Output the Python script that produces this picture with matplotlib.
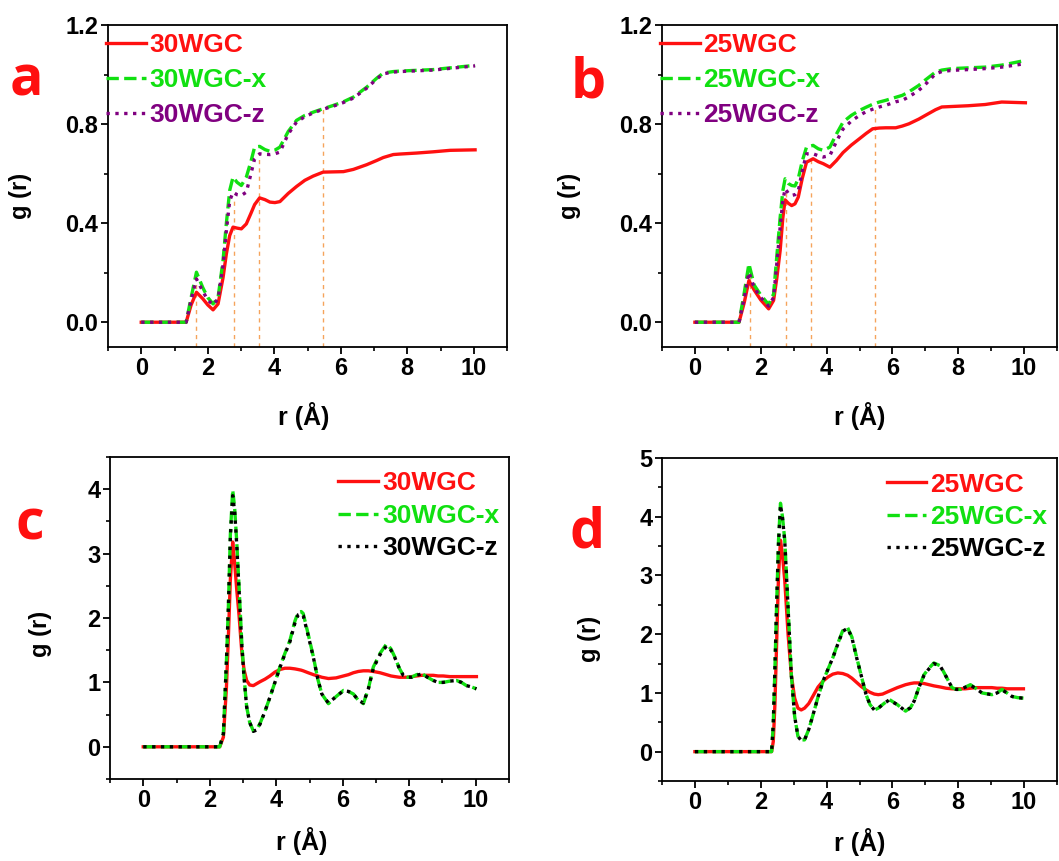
import matplotlib
matplotlib.use("Agg")
import matplotlib.pyplot as plt
from matplotlib.ticker import MultipleLocator

plt.rcParams['font.family'] = ['Liberation Sans', 'DejaVu Sans']
plt.rcParams['font.weight'] = 'bold'

# ---------------- data ----------------
# panel a (30WGC, cumulative)
r_a = [0.0, 0.5, 1.0, 1.35, 1.5, 1.66, 1.85, 2.0, 2.16, 2.31, 2.46, 2.56, 2.66, 2.76, 2.88,
       3.01, 3.16, 3.3, 3.41, 3.56, 3.72, 3.87, 4.02, 4.17, 4.42, 4.67, 4.92, 5.17, 5.47,
       5.77, 6.08, 6.38, 6.78, 7.08, 7.28, 7.58, 7.78, 8.28, 8.78, 9.29, 10.04]
a_wgc = [0, 0, 0, 0, 0.07, 0.121, 0.095, 0.07, 0.05, 0.074, 0.18, 0.276, 0.35, 0.384, 0.38,
         0.377, 0.397, 0.44, 0.475, 0.502, 0.495, 0.485, 0.483, 0.487, 0.52, 0.548, 0.573, 0.59, 0.606,
         0.607, 0.608, 0.617, 0.636, 0.653, 0.665, 0.677, 0.679, 0.683, 0.688, 0.694, 0.696]
a_x = [0, 0, 0, 0, 0.1, 0.202, 0.14, 0.1, 0.074, 0.1, 0.25, 0.4, 0.532, 0.586, 0.565,
       0.552, 0.586, 0.65, 0.707, 0.71, 0.697, 0.69, 0.695, 0.707, 0.77, 0.815, 0.835, 0.848, 0.862,
       0.875, 0.89, 0.909, 0.949, 0.985, 1.006, 1.012, 1.014, 1.017, 1.02, 1.027, 1.037]
a_z = [0, 0, 0, 0, 0.09, 0.175, 0.125, 0.09, 0.07, 0.095, 0.23, 0.37, 0.49, 0.525, 0.515,
       0.512, 0.525, 0.6, 0.66, 0.68, 0.678, 0.677, 0.68, 0.687, 0.76, 0.808, 0.83, 0.845, 0.86,
       0.872, 0.887, 0.905, 0.945, 0.982, 1.003, 1.01, 1.012, 1.015, 1.018, 1.025, 1.035]
a_guides_r = [1.66, 2.78, 3.54, 5.47]
a_guides_g = [0.2, 0.5, 0.68, 0.86]

# panel b (25WGC, cumulative)
r_b = [0, 0.5, 1.0, 1.34, 1.5, 1.64, 1.8, 2.0, 2.24, 2.39, 2.49, 2.59, 2.67, 2.74, 2.84, 2.94,
       3.04, 3.14, 3.26, 3.39, 3.59, 3.75, 3.9, 4.1, 4.3, 4.5, 4.75, 5.0, 5.2, 5.4, 5.6, 5.8,
       6.1, 6.3, 6.5, 6.8, 7.0, 7.31, 7.5, 7.81, 8.3, 8.82, 9.32, 10.04]
b_wgc = [0, 0, 0, 0, 0.08, 0.168, 0.13, 0.09, 0.054, 0.088, 0.18, 0.29, 0.42, 0.494, 0.48, 0.471,
         0.478, 0.505, 0.58, 0.646, 0.66, 0.648, 0.64, 0.626, 0.653, 0.685, 0.715, 0.741, 0.762, 0.781, 0.784, 0.785,
         0.785, 0.792, 0.801, 0.82, 0.835, 0.858, 0.869, 0.871, 0.874, 0.879, 0.889, 0.886]
b_x = [0, 0, 0, 0, 0.12, 0.236, 0.15, 0.11, 0.071, 0.114, 0.27, 0.424, 0.53, 0.579, 0.56, 0.552,
       0.55, 0.58, 0.65, 0.707, 0.714, 0.7, 0.694, 0.707, 0.76, 0.808, 0.835, 0.855, 0.868, 0.88, 0.889, 0.896,
       0.908, 0.916, 0.93, 0.956, 0.978, 1.01, 1.018, 1.024, 1.027, 1.03, 1.038, 1.057]
b_z = [0, 0, 0, 0, 0.1, 0.202, 0.14, 0.1, 0.065, 0.1, 0.24, 0.384, 0.49, 0.539, 0.52, 0.512,
       0.515, 0.53, 0.61, 0.68, 0.68, 0.672, 0.667, 0.673, 0.73, 0.78, 0.812, 0.835, 0.85, 0.86, 0.869, 0.876,
       0.89, 0.896, 0.91, 0.936, 0.96, 1.003, 1.012, 1.017, 1.02, 1.024, 1.03, 1.044]
b_guides_r = [1.67, 2.77, 3.54, 5.48]
b_guides_g = [0.2, 0.52, 0.66, 0.86]

# panel c (30WGC, RDF)
r_c = [0, 0.5, 1, 1.5, 2.0, 2.3, 2.41, 2.5, 2.56, 2.62, 2.69, 2.75, 2.81, 2.88, 2.96, 3.03, 3.11,
       3.2, 3.31, 3.41, 3.51, 3.66, 3.81, 3.96, 4.11, 4.26, 4.41, 4.56, 4.66, 4.75, 4.81, 4.96,
       5.12, 5.25, 5.37, 5.57, 5.8, 6.02, 6.17, 6.32, 6.47, 6.62, 6.77, 6.92, 7.12, 7.32, 7.45,
       7.57, 7.7, 7.82, 7.95, 8.07, 8.22, 8.37, 8.55, 8.72, 8.87, 9.02, 9.22, 9.42, 9.57, 9.72,
       9.87, 10.02]
c_wgc = [0, 0, 0, 0, 0, 0.0, 0.15, 0.9, 1.7, 2.6, 3.18, 2.85, 2.45, 2.05, 1.5, 1.2, 1.03,
         0.96, 0.95, 0.98, 1.01, 1.05, 1.1, 1.16, 1.2, 1.22, 1.22, 1.21, 1.2, 1.19, 1.18, 1.15,
         1.12, 1.1, 1.08, 1.06, 1.07, 1.1, 1.12, 1.15, 1.17, 1.18, 1.18, 1.17, 1.15, 1.12, 1.1,
         1.09, 1.08, 1.08, 1.08, 1.09, 1.1, 1.11, 1.11, 1.11, 1.1, 1.1, 1.09, 1.09, 1.09, 1.09,
         1.09, 1.09]
c_x = [0, 0, 0, 0, 0, 0.0, 0.2, 1.3, 2.17, 3.3, 3.99, 3.7, 3.2, 2.5, 1.65, 1.1, 0.62,
       0.38, 0.25, 0.27, 0.36, 0.55, 0.77, 1.0, 1.24, 1.45, 1.65, 1.95, 2.09, 2.1, 2.07, 1.75,
       1.39, 1.05, 0.82, 0.67, 0.78, 0.875, 0.86, 0.82, 0.72, 0.67, 0.9, 1.24, 1.45, 1.6, 1.52,
       1.39, 1.22, 1.11, 1.08, 1.08, 1.12, 1.14, 1.08, 1.03, 1.0, 1.0, 1.02, 1.03, 1.0, 0.95,
       0.93, 0.9]
c_z = [0, 0, 0, 0, 0, 0.0, 0.2, 1.3, 2.15, 3.25, 3.9, 3.65, 3.15, 2.45, 1.62, 1.08, 0.62,
       0.38, 0.24, 0.26, 0.35, 0.55, 0.77, 1.0, 1.23, 1.44, 1.63, 1.92, 2.05, 2.07, 2.04, 1.73,
       1.38, 1.05, 0.82, 0.68, 0.78, 0.87, 0.86, 0.82, 0.72, 0.68, 0.9, 1.22, 1.43, 1.57, 1.5,
       1.38, 1.22, 1.11, 1.08, 1.08, 1.11, 1.13, 1.08, 1.03, 1.0, 1.0, 1.02, 1.03, 1.0, 0.95,
       0.93, 0.9]

# panel d (25WGC, RDF)
r_d = [0, 0.5, 1.0, 1.5, 2.0, 2.33, 2.38, 2.43, 2.48, 2.54, 2.6, 2.66, 2.73, 2.83, 2.93, 3.03,
       3.13, 3.23, 3.33, 3.46, 3.59, 3.74, 3.89, 4.04, 4.19, 4.34, 4.49, 4.64, 4.77, 4.89, 5.05,
       5.2, 5.32, 5.45, 5.57, 5.7, 5.9, 6.15, 6.4, 6.55, 6.66, 6.81, 6.96, 7.11, 7.26, 7.46,
       7.63, 7.81, 7.94, 8.07, 8.22, 8.37, 8.55, 8.72, 9.02, 9.18, 9.33, 9.48, 9.63, 9.8, 9.98]
d_wgc = [0, 0, 0, 0, 0, 0, 0.17, 0.8, 1.8, 3.0, 3.6, 3.35, 2.91, 2.0, 1.3, 0.91,
         0.74, 0.71, 0.74, 0.82, 0.95, 1.1, 1.2, 1.27, 1.32, 1.34, 1.33, 1.3, 1.25, 1.19, 1.11,
         1.05, 1.01, 0.98, 0.97, 0.98, 1.03, 1.09, 1.14, 1.16, 1.17, 1.17, 1.16, 1.14, 1.12, 1.1,
         1.08, 1.07, 1.07, 1.07, 1.07, 1.08, 1.09, 1.09, 1.09, 1.08, 1.08, 1.07, 1.07, 1.07, 1.07]
d_x = [0, 0, 0, 0, 0, 0, 0.46, 1.4, 2.46, 3.6, 4.23, 4.0, 3.6, 2.46, 1.3, 0.6,
       0.26, 0.2, 0.2, 0.38, 0.63, 0.93, 1.2, 1.4, 1.6, 1.84, 2.06, 2.11, 1.95, 1.66, 1.3,
       0.97, 0.8, 0.71, 0.74, 0.8, 0.89, 0.8, 0.69, 0.75, 0.86, 1.1, 1.31, 1.42, 1.51, 1.46,
       1.28, 1.09, 1.06, 1.06, 1.1, 1.14, 1.07, 1.0, 0.97, 1.0, 1.06, 1.0, 0.94, 0.92, 0.91]
d_z = [0, 0, 0, 0, 0, 0, 0.46, 1.4, 2.45, 3.55, 4.2, 3.98, 3.58, 2.45, 1.3, 0.6,
       0.26, 0.19, 0.2, 0.38, 0.63, 0.93, 1.2, 1.4, 1.6, 1.83, 2.05, 2.1, 1.94, 1.65, 1.3,
       0.97, 0.8, 0.71, 0.74, 0.8, 0.88, 0.8, 0.69, 0.75, 0.86, 1.1, 1.3, 1.41, 1.5, 1.45,
       1.28, 1.09, 1.06, 1.06, 1.1, 1.13, 1.07, 1.0, 0.97, 1.0, 1.05, 1.0, 0.94, 0.92, 0.91]

labels_30 = ['30WGC', '30WGC-x', '30WGC-z']
labels_25 = ['25WGC', '25WGC-x', '25WGC-z']
panel_letters = ['a', 'b', 'c', 'd']

RED = '#ff1010'
GREEN = '#11e011'
PURPLE = '#800080'
BLACK = '#000000'
ORANGE = '#f5a45c'

fig = plt.figure(figsize=(10.59, 8.61), dpi=100)
ax_a = fig.add_axes([108/1059, 1-347/861, 399/1059, 322/861])
ax_b = fig.add_axes([662/1059, 1-347/861, 395/1059, 322/861])
ax_c = fig.add_axes([110/1059, 1-779/861, 399/1059, 322/861])
ax_d = fig.add_axes([662/1059, 1-781/861, 395/1059, 323/861])

LW = 2.4


def style(ax, ylim, ymaj, ymin, fmt):
    ax.set_xlim(-1, 11)
    ax.set_ylim(*ylim)
    ax.xaxis.set_major_locator(MultipleLocator(2))
    ax.xaxis.set_minor_locator(MultipleLocator(1))
    ax.yaxis.set_major_locator(MultipleLocator(ymaj))
    ax.yaxis.set_minor_locator(MultipleLocator(ymin))
    ax.yaxis.set_major_formatter(fmt)
    ax.tick_params(which='major', direction='out', length=5, width=1.3, labelsize=17, pad=2)
    ax.tick_params(which='minor', direction='out', length=3, width=1.2)
    for s in ax.spines.values():
        s.set_linewidth(1.3)
    for t in ax.get_xticklabels() + ax.get_yticklabels():
        t.set_fontweight('bold')
    ax.set_ylabel('g (r)', fontsize=17, fontweight='bold')
    ax.set_xlabel('r (Å)', fontsize=18, fontweight='bold')


def cum_panel(ax, r, s1, s2, s3, gr, gg, labels):
    ax.vlines(gr, -0.1, gg, colors=ORANGE, linestyles=(0, (3, 3)), linewidth=1.0, zorder=1)
    ax.plot(r, s1, color=RED, lw=LW, ls='-', label=labels[0], zorder=3)
    ax.plot(r, s2, color=GREEN, lw=LW, ls='--', label=labels[1], zorder=4)
    ax.plot(r, s3, color=PURPLE, lw=LW, ls=':', label=labels[2], zorder=5)
    style(ax, (-0.1, 1.2), 0.4, 0.2, '{x:.1f}')
    leg = ax.legend(loc='upper left', bbox_to_anchor=(-0.005, 0.975), frameon=False,
                    handlelength=1.5, handletextpad=0.15, labelspacing=0.42, borderpad=0,
                    borderaxespad=0, prop={'weight': 'bold', 'size': 19})
    for t, c in zip(leg.get_texts(), [RED, GREEN, PURPLE]):
        t.set_color(c)


def rdf_panel(ax, r, s1, s2, s3, labels, ylim):
    ax.plot(r, s1, color=RED, lw=LW, ls='-', label=labels[0], zorder=3)
    ax.plot(r, s2, color=GREEN, lw=LW, ls='--', label=labels[1], zorder=4)
    ax.plot(r, s3, color=BLACK, lw=LW, ls=':', label=labels[2], zorder=5)
    style(ax, ylim, 1, 0.5, '{x:.0f}')
    leg = ax.legend(loc='upper right', bbox_to_anchor=(0.975, 0.955), frameon=False,
                    handlelength=1.5, handletextpad=0.15, labelspacing=0.32, borderpad=0,
                    borderaxespad=0, prop={'weight': 'bold', 'size': 19})
    for t, c in zip(leg.get_texts(), [RED, GREEN, BLACK]):
        t.set_color(c)


cum_panel(ax_a, r_a, a_wgc, a_x, a_z, a_guides_r, a_guides_g, labels_30)
cum_panel(ax_b, r_b, b_wgc, b_x, b_z, b_guides_r, b_guides_g, labels_25)
rdf_panel(ax_c, r_c, c_wgc, c_x, c_z, labels_30, (-0.5, 4.5))
rdf_panel(ax_d, r_d, d_wgc, d_x, d_z, labels_25, (-0.5, 5.0))

ax_a.yaxis.set_label_coords(-0.19, 0.47)
ax_b.yaxis.set_label_coords(-0.205, 0.47)
ax_c.yaxis.set_label_coords(-0.145, 0.45)
ax_d.yaxis.set_label_coords(-0.155, 0.44)
ax_a.xaxis.set_label_coords(0.49, -0.17)
ax_b.xaxis.set_label_coords(0.5, -0.17)
ax_c.xaxis.set_label_coords(0.48, -0.15)
ax_d.xaxis.set_label_coords(0.5, -0.145)

letter_pos = [(26, 95), (588, 97), (30, 540), (587, 547)]
for L, (px, py) in zip(panel_letters, letter_pos):
    fig.text(px/1059, 1-py/861, L, color=RED, fontsize=40, fontweight='bold',
             family=['Open Sans', 'DejaVu Sans'], ha='center', va='baseline')

fig.savefig('out.png', dpi=100)
